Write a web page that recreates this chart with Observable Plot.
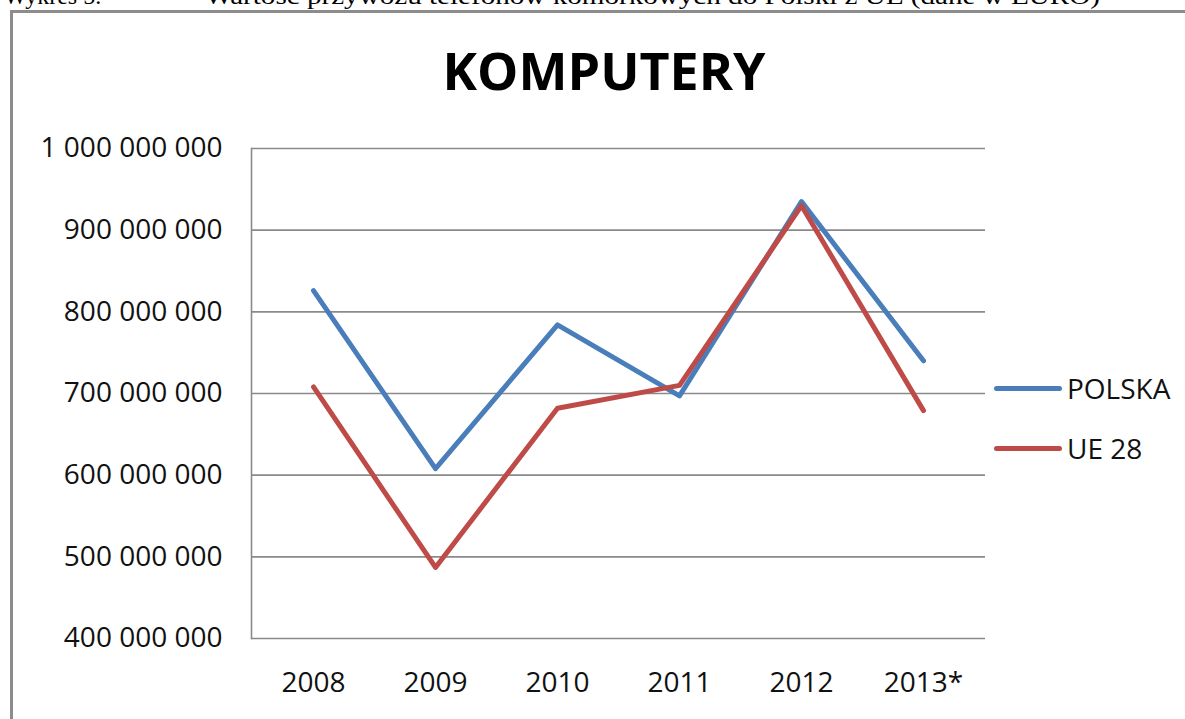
<!DOCTYPE html>
<html>
<head>
<meta charset="utf-8">
<script src="https://cdn.jsdelivr.net/npm/d3@7"></script>
<script src="https://cdn.jsdelivr.net/npm/@observablehq/plot@0.6"></script>
<style>
  html, body { margin: 0; padding: 0; background: #fff; }
  #page { position: relative; width: 1185px; height: 719px; overflow: hidden; background: #fff; }
  #frame { position: absolute; left: 10px; top: 10px; width: 1300px; height: 900px;
           border: 3px solid #8c8c8c; border-right: none; box-sizing: border-box; }
  #title { position: absolute; left: 0; width: 1208px; top: 44px; text-align: center;
           font-family: "Open Sans", sans-serif; font-weight: 700; font-size: 52px; line-height: 1; color: #000; }
  #chart { position: absolute; left: 0; top: 0; }
  .leg { position: absolute; left: 994px; font-family: "Open Sans", sans-serif; font-size: 28px; color: #111;
         display: flex; align-items: center; height: 40px; line-height: 1; }
  .leg .sw { width: 68px; height: 5px; border-radius: 3px; margin-right: 5px; }
</style>
</head>
<body>
<div id="page">
  <svg id="cap" width="1185" height="12" style="position:absolute;left:0;top:0">
    <text x="4" y="4" font-family="Liberation Serif" font-size="24" fill="#000">Wykres 5.</text>
    <text x="205" y="4" font-family="Liberation Serif" font-size="24" fill="#000" textLength="895" lengthAdjust="spacingAndGlyphs">Wartość przywozu telefonów komórkowych do Polski z UE (dane w EURO)</text>
  </svg>
  <div id="frame"></div>
  <div id="title">KOMPUTERY</div>
  <div id="chart"></div>
  <div id="legend"></div>
</div>
<script>
const years = ["2008", "2009", "2010", "2011", "2012", "2013*"];
const polska = [826e6, 608e6, 784e6, 697e6, 935e6, 740e6];
const ue28 = [708e6, 487e6, 682e6, 710e6, 930e6, 679e6];
const seriesNames = ["POLSKA", "UE 28"];
const seriesColors = ["#4A7EBB", "#BE4B48"];
const yTicks = [400e6, 500e6, 600e6, 700e6, 800e6, 900e6, 1000e6];

const rows = [];
years.forEach((y, i) => rows.push({year: y, value: polska[i], series: seriesNames[0]}));
years.forEach((y, i) => rows.push({year: y, value: ue28[i], series: seriesNames[1]}));

const fmt = d => d3.format(",")(d).replace(/,/g, " ");

const hasAnchor = true;
const chart = Plot.plot({
  width: 1185,
  height: 719,
  marginLeft: 251,
  marginRight: 200,
  marginTop: 148,
  marginBottom: 81,
  style: {fontFamily: "Open Sans, sans-serif", fontSize: "28px", color: "#111", background: "transparent", overflow: "visible"},
  x: {type: "point", domain: years, padding: 0.5, tickSize: 0, tickPadding: 34, label: null},
  y: {domain: [400e6, 1000e6], ticks: yTicks, tickFormat: fmt, tickSize: 0, tickPadding: 29, label: null},
  color: {domain: seriesNames, range: seriesColors},
  marks: [
    Plot.ruleY(yTicks, {stroke: "#8a8a8a", strokeWidth: 1.6}),
    Plot.frame({anchor: "left", stroke: "#8a8a8a", strokeWidth: 1.6}),
    Plot.lineY(rows, {x: "year", y: "value", z: "series", stroke: "series", strokeWidth: 5, strokeLinecap: "round"})
  ]
});
document.getElementById("chart").appendChild(chart);

const legend = document.getElementById("legend");
const legTops = [368, 428];
seriesNames.forEach((name, i) => {
  const d = document.createElement("div");
  d.className = "leg";
  d.style.top = legTops[i] + "px";
  d.innerHTML = `<div class="sw" style="background:${seriesColors[i]}"></div><span>${name}</span>`;
  legend.appendChild(d);
});
</script>
</body>
</html>
